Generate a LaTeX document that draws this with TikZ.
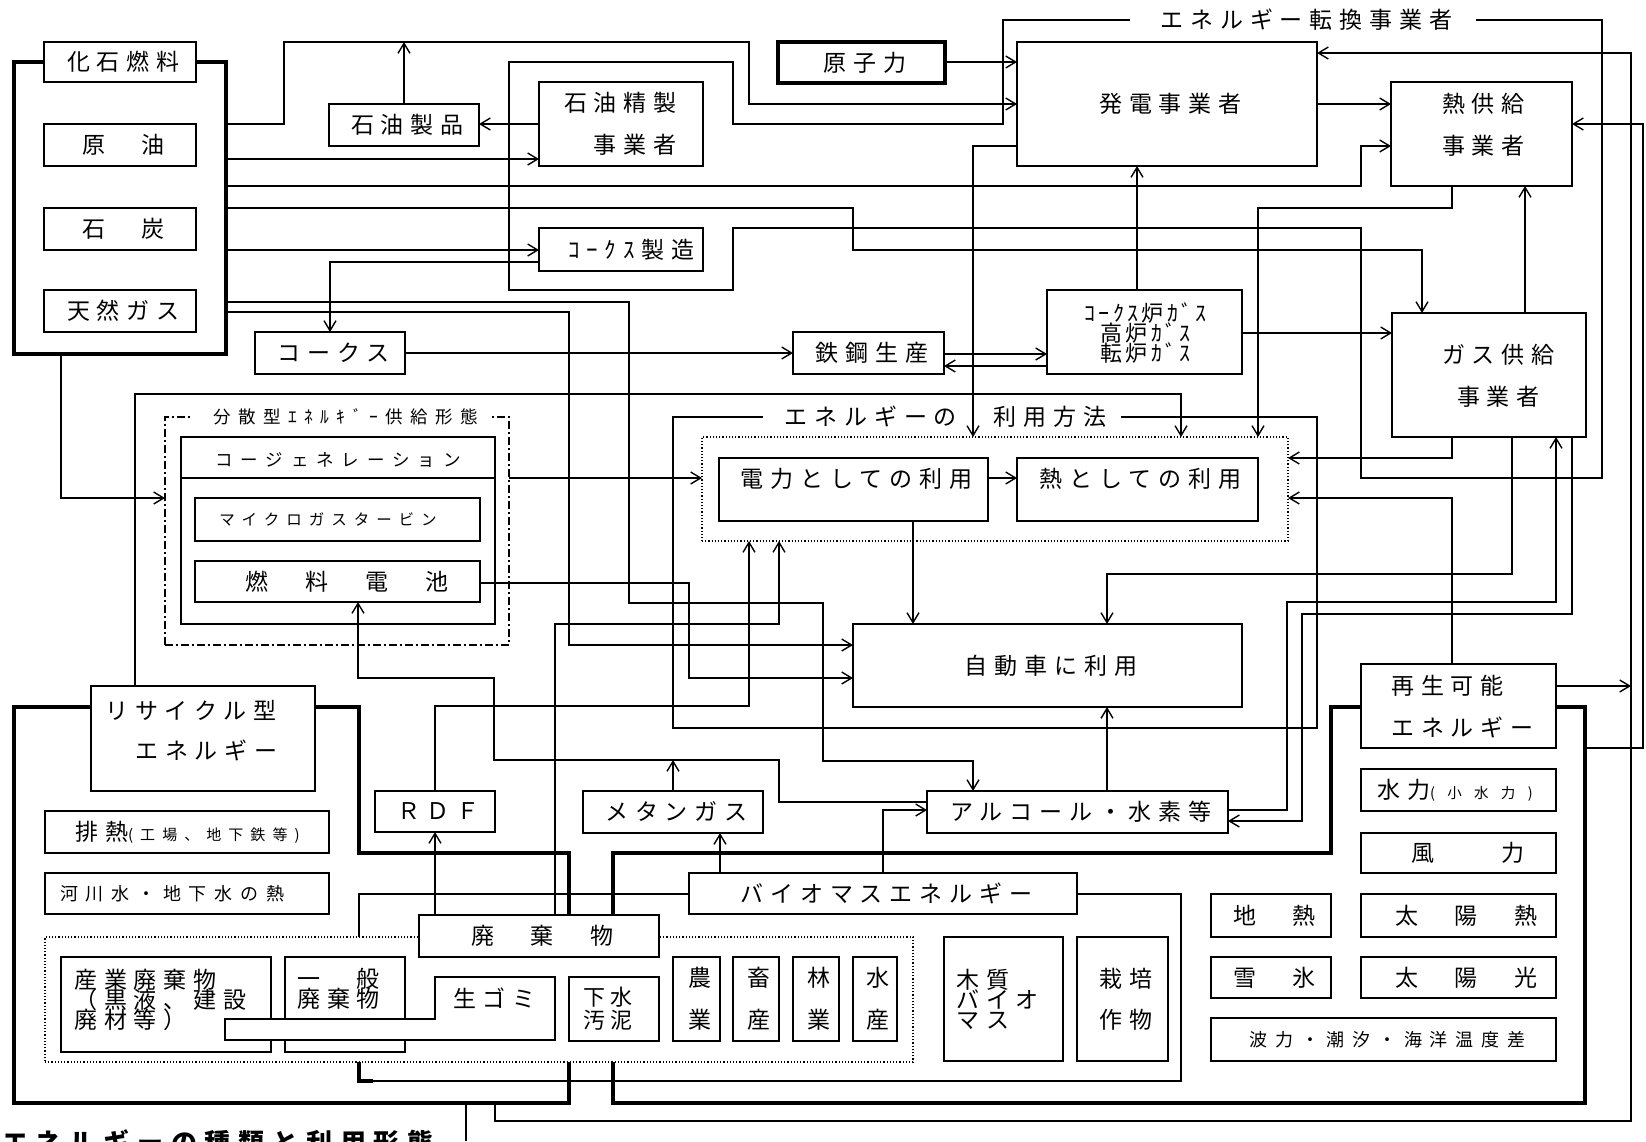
\documentclass[tikz,border=0pt]{standalone}
\usepackage{fontspec}
\setmainfont{Noto Sans CJK JP}
\newfontfamily\jpA[LetterSpace=30]{Noto Sans CJK JP}
\newfontfamily\jpH[LetterSpace=43]{Noto Sans CJK JP}
\newfontfamily\jpB[LetterSpace=45]{Noto Sans CJK JP}
\newfontfamily\jpC[LetterSpace=15]{Noto Sans CJK JP}
\newfontfamily\jpD[LetterSpace=85]{Noto Sans CJK JP}
\newfontfamily\jpE[LetterSpace=47]{Noto Sans CJK JP}
\newfontfamily\jpG[LetterSpace=22]{Noto Sans CJK JP}
\usetikzlibrary{arrows.meta,positioning}

% font sizes (one pixel of the drawing = 1pt)
\newcommand{\fnA}{\jpA\fontsize{23pt}{20pt}\selectfont\lineskiplimit=-50pt\def\lsk{0.30em}}
\newcommand{\fnS}{\jpH\fontsize{18pt}{20pt}\selectfont\def\lsk{0.43em}}
\newcommand{\fnT}{\jpH\fontsize{17.5pt}{20pt}\selectfont\def\lsk{0.43em}}
\newcommand{\fnB}{\jpB\fontsize{17.5pt}{20pt}\selectfont\def\lsk{0.45em}}
\newcommand{\fnM}{\jpB\fontsize{15.5pt}{20pt}\selectfont\def\lsk{0.45em}}
\newcommand{\fnC}{\jpC\fontsize{22pt}{20pt}\selectfont\lineskiplimit=-50pt\def\lsk{0.15em}}
\newcommand{\fnD}{\jpD\fontsize{14.5pt}{20pt}\selectfont\def\lsk{0.85em}}
\newcommand{\fnE}{\jpE\fontsize{15pt}{20pt}\selectfont\def\lsk{0.47em}}
\newcommand{\fnG}{\jpG\fontsize{22pt}{23pt}\selectfont\lineskiplimit=-50pt\def\lsk{0.22em}}
\newcommand{\fnCap}{\jpA\bfseries\fontsize{26pt}{26pt}\selectfont\def\lsk{0.30em}}
\newcommand{\tk}{\kern-\lsk}

\begin{document}
\begin{tikzpicture}[x=1pt, y=-1pt,
    box/.style={draw, line width=1.4pt, fill=white, inner sep=0pt, outer sep=0pt, font=\fnA},
    thickbox/.style={box, line width=3.5pt},
    txt/.style={inner sep=0pt, font=\fnA},
    frame/.style={line width=3.5pt},
    group/.style={line width=1.4pt},
    flabel/.style={fill=white, inner ysep=3pt, outer sep=0pt, font=\fnA},
    dotbox/.style={draw, line width=1.2pt, dash pattern=on 1.2pt off 2pt, inner sep=0pt, outer sep=0pt},
    dashdot/.style={draw, line width=1.4pt, dash pattern=on 8pt off 3pt on 2pt off 3pt, inner sep=0pt, outer sep=0pt},
    link/.style={line width=1.4pt},
    arr/.style={link, -{Straight Barb[length=10pt,width=12pt]}},
    wh/.style n args={2}{minimum width=#1pt, minimum height=#2pt}
]
    \useasboundingbox (0,0) rectangle (1646,1141);
    \clip (0,0) rectangle (1646,1141);
    \fill[white] (0,0) rectangle (1646,1141);

    % --- group frames ---
    \node[draw, frame, inner sep=0pt, outer sep=0pt, wh={212}{292}] (fossil) at (120,208) {};
    \draw[group] (509,62) -- (733,62) -- (733,124) -- (1003,124) -- (1003,20) -- (1602,20)
        -- (1602,478) -- (1361,478) -- (1361,228) -- (733,228) -- (733,290) -- (509,290) -- cycle;
    \node[flabel, inner xsep=30pt] (conv) at (1303,20) {エネルギー転換事業者\tk};
    \draw[group] (673,417) rectangle (1317,728);
    \node[flabel, inner xsep=21pt] (use) at (942,417) {エネルギーの　利用方法\tk};
    \node[dashdot, wh={344}{228}] (bunsan) at (337,531) {};
    \node[flabel, font=\fnT, inner xsep=20pt] (bunsan-t) at (342,417) {分散型ｴﾈﾙｷﾞｰ供給形態\tk};
    \node[dotbox, wh={586}{104}] (usebox) at (995,489) {};

    % recycle / renewable frames and the biomass group
    \draw[frame] (14,707) -- (359,707) -- (359,853) -- (569,853) -- (569,1103) -- (14,1103) -- cycle;
    \draw[frame] (1331,707) -- (1585,707) -- (1585,1103) -- (613,1103) -- (613,853) -- (1331,853) -- cycle;
    \draw[group] (359,894) rectangle (1181,1081);
    \draw[frame] (359,1062) -- (359,1081) -- (373,1081);
    \node[dotbox, fill=white, wh={868}{125}] (waste) at (479,999.5) {};

    \coordinate (rcb1) at (495,1103);
    \coordinate (rcb2) at (466,1103);
    \coordinate (out1) at (466,1141);
    \coordinate (sfr) at (1585,748);
    \coordinate (jR) at (1631,686);
    \coordinate (mj) at (673,760);

    % --- fossil fuels ---
    \node[box, wh={152}{40}] (kaseki) at (120,62) {化石燃料\tk};
    \node[box, wh={152}{42}] (genyu) at (120,145) {原　油\tk};
    \node[box, wh={152}{42}] (sekitan) at (120,229) {石　炭\tk};
    \node[box, wh={152}{42}] (tengas) at (120,311) {天然ガス\tk};

    % --- conversion ---
    \node[box, wh={150}{42}] (seihin) at (404,125) {石油製品\tk};
    \node[box, wh={164}{84}] (seisei) at (621,124) {};
    \node[txt, anchor=east, align=right] (seisei-t) at (670,124) {石油精製\tk\\[22pt]事業者\tk};
    \node[thickbox, wh={167}{41}] (genshi) at (861.5,62.5) {原子力\tk};
    \node[box, wh={300}{124}] (hatsuden) at (1167,104) {発電事業者\tk};
    \node[box, wh={181}{104}] (netsu) at (1481.5,134) {};
    \node[txt, align=center] (netsu-t) at (1480,125) {熱供給\tk\\[22pt]事業者\tk};
    \node[box, wh={164}{43}] (cokemfg) at (621,249.5) {\hspace*{14pt}ｺｰｸｽ製造\tk};
    \node[box, wh={150}{42}] (coke) at (330,353) {コークス\tk};
    \node[box, wh={151}{42}] (tekko) at (868.5,353) {鉄鋼生産\tk};
    \node[box, wh={195}{84}] (cgas) at (1144.5,332) {};
    \node[txt, font=\fnC, align=center] (cgas-t) at (1144,333) {ｺｰｸｽ炉ｶﾞｽ\tk\\高炉ｶﾞｽ\tk\\転炉ｶﾞｽ\tk};
    \node[box, wh={194}{124}] (gas) at (1489,375) {};
    \node[txt, align=center] (gas-t) at (1495,376) {ガス供給\tk\\[22pt]事業者\tk};

    % --- distributed supply ---
    \node[box, wh={314}{187}] (cogen) at (338,530.5) {};
    \draw[link] (cogen.west |- 0,478) -- (cogen.east |- 0,478);
    \node[txt, font=\fnB] (cogen-t) at (334,460) {コージェネレーション\tk};
    \node[box, font=\fnM, wh={285}{43}] (micro) at (337.5,519.5) {マイクロガスタービン\tk\hspace*{26pt}};
    \node[box, wh={285}{41}] (fuel) at (337.5,581.5) {\hspace*{12pt}燃　料　電　池\tk};

    % --- uses ---
    \node[box, wh={269}{63}] (denryoku) at (853.5,489.5) {};
    \node[txt] (denryoku-t) at (853,479) {電力としての利用\tk};
    \node[box, wh={241}{63}] (netsuriyo) at (1137.5,489.5) {};
    \node[txt] (netsuriyo-t) at (1137,479) {熱としての利用\tk};
    \node[box, wh={389}{83}] (jidosha) at (1047.5,665.5) {自動車に利用\tk};

    % --- recycle type ---
    \node[box, wh={224}{105}] (recycle) at (203,738.5) {};
    \node[txt, anchor=west, align=left] (recycle-t) at (105,731) {リサイクル型\\[20pt]\hspace*{30pt}エネルギー};
    \node[box, wh={284}{42}] (haines) at (187,832) {};
    \node[txt, anchor=west] (haines-t) at (75,832) {排熱{\fnE (工場、地下鉄等)}};
    \node[box, wh={284}{41}] (kasen) at (187,893.5) {};
    \node[txt, font=\fnS, anchor=west] (kasen-t) at (60,893.5) {河川水・地下水の熱};
    \node[box, wh={120}{41}] (rdf) at (435,811.5) {ＲＤＦ\tk};
    \node[box, wh={180}{42}] (methane) at (673,812) {メタンガス\tk};
    \node[box, wh={301}{42}] (alcohol) at (1077.5,812) {アルコール・水素等\tk};
    \node[box, wh={388}{41}] (biomass) at (883,893.5) {バイオマスエネルギー\tk};

    % waste and biomass sources
    \node[box, wh={240}{42}] (haiki) at (539,936) {廃　棄　物\tk};
    \node[box, wh={210}{95}] (sangyo) at (166,1004.5) {};
    \node[txt, anchor=west, align=left] (sangyo-t) at (74,999.5) {産業廃棄物\\（黒液、建設\\廃材等）};
    \node[box, wh={120}{95}] (ippan) at (345,1004.5) {};
    \node[txt, anchor=west, align=left] (ippan-t) at (297,988.5) {一　般\\廃棄物};
    \draw[link, fill=white] (435,977) -- (555,977) -- (555,1040) -- (225,1040) -- (225,1019) -- (435,1019) -- cycle;
    \node[txt] (namagomi) at (491,998) {生ゴミ\tk};
    \node[box, wh={90}{64}] (gesui) at (614,1009) {};
    \node[txt, font=\fnG, anchor=west, align=left] (gesui-t) at (583,1008.5) {下水\\汚泥};
    \node[box, wh={47}{84}, align=center] (nogyo) at (696.5,999) {農\tk\\[22pt]業\tk};
    \node[box, wh={46}{84}, align=center] (chikusan) at (756,999) {畜\tk\\[22pt]産\tk};
    \node[box, wh={46}{84}, align=center] (ringyo) at (816,999) {林\tk\\[22pt]業\tk};
    \node[box, wh={44}{84}, align=center] (suisan) at (875,999) {水\tk\\[22pt]産\tk};
    \node[box, wh={119}{124}] (moku) at (1003.5,999) {};
    \node[txt, anchor=west, align=left] (moku-t) at (956,999.5) {木質\\バイオ\\マス};
    \node[box, wh={91}{124}, align=center] (saibai) at (1122.5,999) {栽培\tk\\[21pt]作物\tk};

    % --- renewables ---
    \node[box, wh={195}{84}] (saisei) at (1458.5,706) {};
    \node[txt, anchor=west, align=left] (saisei-t) at (1391,707) {再生可能\\[22pt]エネルギー};
    \node[box, wh={195}{42}] (suiryoku) at (1458.5,790) {};
    \node[txt, anchor=west] (suiryoku-t) at (1377,790) {水力{\fnD (小水力)}};
    \node[box, wh={195}{40}] (furyoku) at (1458.5,853) {\hspace*{12pt}風　　力\tk};
    \node[box, wh={195}{43}] (taiyonetsu) at (1458.5,915.5) {\hspace*{9pt}太　陽　熱\tk};
    \node[box, wh={195}{41}] (taiyoko) at (1458.5,977.5) {\hspace*{9pt}太　陽　光\tk};
    \node[box, wh={120}{43}] (chinetsu) at (1271,915.5) {地　熱\tk};
    \node[box, wh={120}{41}] (seppyo) at (1271,977.5) {雪　氷\tk};
    \node[box, font=\fnS, wh={345}{43}] (hado) at (1383.5,1039.5) {波力・潮汐・海洋温度差\tk};

    \node[txt, font=\fnCap, anchor=north west] (caption) at (2,1129) {エネルギーの種類と利用形態\tk};

    % --- flows from fossil fuels ---
    \draw[arr] (fossil.east |- 0,124) -- (284,124) -- (284,42) -- (749,42) -- (749,104) -- (hatsuden.west |- 0,104);
    \draw[arr] (seihin.north) -- (seihin.north |- 0,42);
    \draw[arr] (seisei.west |- 0,124) -- (seihin.east |- 0,124);
    \draw[arr] (fossil.east |- 0,159) -- (seisei.west |- 0,159);
    \draw[arr] (fossil.east |- 0,186) -- (1361,186) -- (1361,146) -- (netsu.west |- 0,146);
    \draw[arr] (fossil.east |- 0,208) -- (853,208) -- (853,250) -- (1422,250) -- (gas.north -| 1422,0);
    \draw[arr] (fossil.east |- 0,250) -- (cokemfg.west |- 0,250);
    \draw[arr] (cokemfg.west |- 0,262) -- (330,262) -- (coke.north);
    \draw[arr] (fossil.east |- 0,302) -- (629,302) -- (629,603) -- (823,603) -- (823,761) -- (973,761) -- (alcohol.north -| 973,0);
    \draw[arr] (fossil.east |- 0,312) -- (569,312) -- (569,645) -- (jidosha.west |- 0,645);
    \draw[arr] (fossil.south -| 61,0) -- (61,498) -- (bunsan.west |- 0,498);

    % --- conversion flows ---
    \draw[arr] (genshi.east |- 0,62) -- (hatsuden.west |- 0,62);
    \draw[arr] (hatsuden.east |- 0,104) -- (netsu.west |- 0,104);
    \draw[arr] (coke.east) -- (tekko.west);
    \draw[arr] (tekko.east |- 0,354) -- (cgas.west |- 0,354);
    \draw[arr] (cgas.west |- 0,366) -- (tekko.east |- 0,366);
    \draw[arr] (cgas.north -| 1137,0) -- (hatsuden.south -| 1137,0);
    \draw[arr] (cgas.east |- 0,333) -- (gas.west |- 0,333);
    \draw[arr] (gas.north -| 1525,0) -- (netsu.south -| 1525,0);
    \draw[arr] (netsu.south -| 1452,0) -- (1452,208) -- (1258,208) -- (usebox.north -| 1258,0);
    \draw[arr] (hatsuden.west |- 0,146) -- (973,146) -- (usebox.north -| 973,0);
    \draw[arr] (recycle.north -| 135,0) -- (135,394) -- (1181,394) -- (usebox.north -| 1181,0);
    \draw[arr] (bunsan.east |- 0,478) -- (usebox.west |- 0,478);
    \draw[arr] (gas.south -| 1452,0) -- (1452,458) -- (usebox.east |- 0,458);
    \draw[arr] (saisei.north -| 1452,0) -- (1452,498) -- (usebox.east |- 0,498);

    % --- uses ---
    \draw[arr] (denryoku.east |- 0,478) -- (netsuriyo.west |- 0,478);
    \draw[arr] (denryoku.south -| 913,0) -- (jidosha.north -| 913,0);
    \draw[arr] (gas.south -| 1512,0) -- (1512,574) -- (1107,574) -- (jidosha.north -| 1107,0);
    \draw[arr] (alcohol.north -| 1107,0) -- (jidosha.south -| 1107,0);
    \draw[arr] (alcohol.east |- 0,810) -- (1287,810) -- (1287,602) -- (1556,602) -- (gas.south -| 1556,0);
    \draw[arr] (gas.south -| 1572,0) -- (1572,614) -- (1302,614) -- (1302,821) -- (alcohol.east |- 0,821);
    \draw[arr] (fuel.east |- 0,583) -- (689,583) -- (689,678) -- (jidosha.west |- 0,678);

    % --- recycle flows ---
    \draw[arr] (rdf.north) -- (435,706) -- (749,706) -- (usebox.south -| 749,0);
    \draw[arr] (haiki.north -| 555,0) -- (555,624) -- (779,624) -- (usebox.south -| 779,0);
    \draw[arr] (haiki.north -| 435,0) -- (rdf.south);
    \draw[arr] (methane.north) -- (mj);
    \draw[arr] (mj) -- (494,760) -- (494,678) -- (358,678) -- (fuel.south -| 358,0);
    \draw[link] (mj) -- (779,760) -- (779,802) -- (alcohol.west |- 0,802);
    \draw[arr] (biomass.north -| 720,0) -- (methane.south -| 720,0);
    \draw[arr] (biomass.north -| 883,0) -- (883,810) -- (alcohol.west |- 0,810);
    \draw[link] (rcb2) -- (out1);

    % --- renewables to power and heat ---
    \draw[arr] (rcb1) -- (495,1121) -- (1631,1121) -- (1631,53) -- (hatsuden.east |- 0,53);
    \draw[arr] (saisei.east |- 0,686) -- (jR);
    \draw[arr] (sfr) -- (1643,748) -- (1643,124) -- (netsu.east |- 0,124);
\end{tikzpicture}
\end{document}
